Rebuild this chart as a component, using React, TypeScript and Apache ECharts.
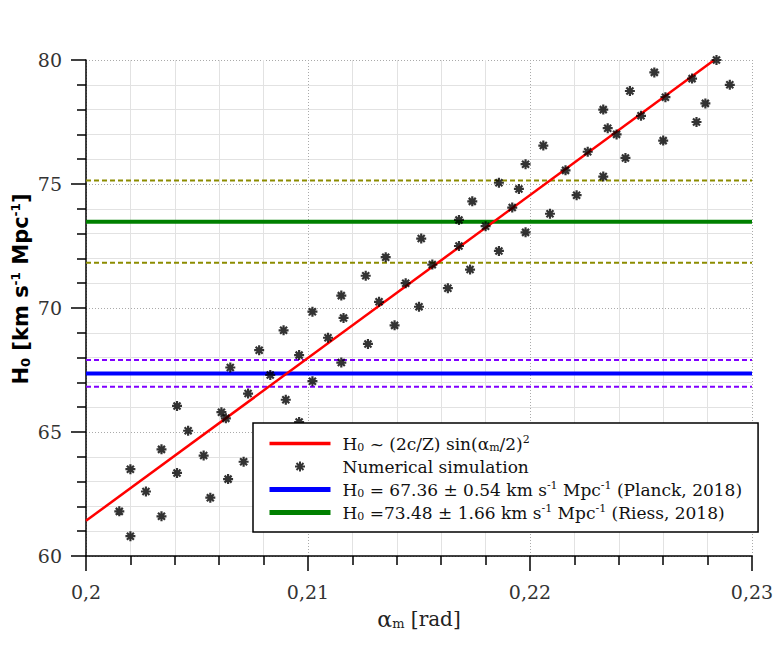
import React, { useEffect, useRef } from "react";
import * as echarts from "echarts";

// ---- Data ----
const simAlpha: number[] = [
  0.2015, 0.202, 0.202, 0.2027, 0.2034, 0.2034, 0.2041, 0.2041, 0.2046, 0.2053,
  0.2056, 0.2061, 0.2063, 0.2065, 0.2064, 0.2071, 0.2073, 0.2078, 0.2083, 0.2089,
  0.209, 0.2096, 0.2096, 0.2102, 0.2102, 0.2109, 0.2115, 0.2116, 0.2115, 0.2127,
  0.2126, 0.2132, 0.2135, 0.2139, 0.2144, 0.215, 0.2151, 0.2156, 0.2163, 0.2168,
  0.2168, 0.2173, 0.2174, 0.218, 0.2186, 0.2186, 0.2192, 0.2195, 0.2198, 0.2198,
  0.2206, 0.2209, 0.2216, 0.2221, 0.2226, 0.2233, 0.2233, 0.2235, 0.2239, 0.2243,
  0.2245, 0.225, 0.2256, 0.226, 0.2261, 0.2273, 0.2275, 0.2279, 0.2284, 0.229,
];
const simH0: number[] = [
  61.8, 60.8, 63.5, 62.6, 61.6, 64.3, 66.05, 63.35, 65.05, 64.05,
  62.35, 65.8, 65.55, 67.6, 63.1, 63.8, 66.55, 68.3, 67.3, 69.1,
  66.3, 68.1, 65.4, 69.85, 67.05, 68.8, 67.8, 69.6, 70.5, 68.55,
  71.3, 70.25, 72.05, 69.3, 71.0, 70.05, 72.8, 71.75, 70.8, 73.55,
  72.5, 71.55, 74.3, 73.3, 75.05, 72.3, 74.05, 74.8, 75.8, 73.05,
  76.55, 73.8, 75.55, 74.55, 76.3, 78.0, 75.3, 77.25, 77.0, 76.05,
  78.75, 77.75, 79.5, 76.75, 78.5, 79.25, 77.5, 78.25, 80.0, 79.0,
];
const modelAlpha: number[] = [0.2, 0.2283];
const modelH0: number[] = [61.42, 80.0];

const planck = { value: 67.36, err: 0.54 };
const riess = { value: 73.48, err: 1.66 };

const xRange = [0.2, 0.23];
const yRange = [60, 80];

const legendLabels: Record<string, string> = {
  model: "H{sub|0} ~ (2c/Z) sin(α{sub|m}/2){sup|2}",
  "Numerical simulation": "Numerical simulation",
  planck: "H{sub|0} = 67.36 ± 0.54 km s{sup|-1} Mpc{sup|-1} (Planck, 2018)",
  riess: "H{sub|0} =73.48 ± 1.66 km s{sup|-1} Mpc{sup|-1} (Riess, 2018)",
};

const STAR = "path://M5,0L5,10M0,5L10,5M1.5,1.5L8.5,8.5M1.5,8.5L8.5,1.5";
const SERIF = "DejaVu Serif";
const SANS = "DejaVu Sans";

function hLine(v: number) {
  return [
    [xRange[0], v],
    [xRange[1], v],
  ];
}

export default function App() {
  const ref = useRef<HTMLDivElement>(null);
  useEffect(() => {
    if (!ref.current) return;
    const chart = echarts.init(ref.current, null, { renderer: "svg" });
    const dashed = (v: number, color: string) => ({
      type: "line",
      data: hLine(v),
      showSymbol: false,
      symbol: "none",
      silent: true,
      lineStyle: { color, width: 2, type: [5, 3] },
      z: 2,
    });
    const hiddenSym = { opacity: 0 };
    chart.setOption({
      animation: false,
      backgroundColor: "#fff",
      grid: { left: 86, top: 60, width: 666, height: 496, containLabel: false },
      xAxis: {
        type: "value",
        min: xRange[0],
        max: xRange[1],
        interval: 0.01,
        name: "{a|α}{sub|m} [rad]",
        nameLocation: "middle",
        nameGap: 52,
        nameTextStyle: {
          fontFamily: SERIF,
          fontSize: 20,
          color: "#222",
          rich: {
            a: { fontFamily: SERIF, fontSize: 22, color: "#222" },
            sub: { fontFamily: SERIF, fontSize: 13, color: "#222", padding: [8, 0, 0, 0] },
          },
        },
        axisLine: { show: true, onZero: false, lineStyle: { color: "#000", width: 1.5 } },
        axisTick: { show: true, inside: false, length: 15, lineStyle: { color: "#000", width: 1.5 } },
        minorTick: { show: true, splitNumber: 5, length: 9, lineStyle: { color: "#000", width: 1.5 } },
        axisLabel: {
          fontFamily: SERIF,
          fontSize: 19,
          color: "#333",
          margin: 26,
          formatter: (v: number) => String(Math.round(v * 1000) / 1000).replace(".", ","),
        },
        splitLine: { show: true, lineStyle: { color: "#aaa", width: 1, type: [1, 2] } },
        minorSplitLine: { show: true, lineStyle: { color: "#e2e2e2", width: 1 } },
      },
      yAxis: {
        type: "value",
        min: yRange[0],
        max: yRange[1],
        interval: 5,
        axisLine: { show: true, onZero: false, lineStyle: { color: "#000", width: 1.5 } },
        axisTick: { show: true, inside: false, length: 15, lineStyle: { color: "#000", width: 1.5 } },
        minorTick: { show: true, splitNumber: 5, length: 9, lineStyle: { color: "#000", width: 1.5 } },
        axisLabel: { fontFamily: SERIF, fontSize: 19, color: "#333", margin: 24 },
        splitLine: { show: true, lineStyle: { color: "#aaa", width: 1, type: [1, 2] } },
        minorSplitLine: { show: true, lineStyle: { color: "#e2e2e2", width: 1 } },
      },
      legend: {
        show: true,
        orient: "vertical",
        left: 253,
        top: 423,
        backgroundColor: "#fff",
        borderColor: "#000",
        borderWidth: 1.5,
        borderRadius: 0,
        padding: [9, 16, 8, 14],
        itemWidth: 61,
        itemHeight: 10,
        itemGap: 0,
        selectedMode: false,
        data: [
          { name: "model", itemStyle: hiddenSym, lineStyle: { width: 3.5, color: "#ff0000" } },
          {
            name: "Numerical simulation",
            icon: STAR,
            itemStyle: { color: "transparent", borderColor: "#000", borderWidth: 2 },
          },
          { name: "planck", itemStyle: hiddenSym, lineStyle: { width: 5, color: "#0000ff" } },
          { name: "riess", itemStyle: hiddenSym, lineStyle: { width: 5, color: "#008000" } },
        ],
        formatter: (name: string) => legendLabels[name] ?? name,
        textStyle: {
          fontFamily: SERIF,
          fontSize: 17,
          color: "#111",
          lineHeight: 23,
          padding: [0, 0, 0, 7],
          rich: {
            sub: { fontFamily: SERIF, fontSize: 11, color: "#111", padding: [7, 0, 0, 0] },
            sup: { fontFamily: SERIF, fontSize: 11, color: "#111", padding: [0, 0, 9, 0] },
          },
        },
        z: 10,
      },
      graphic: [
        {
          type: "text",
          x: 21,
          y: 289,
          rotation: Math.PI / 2,
          style: {
            text: "{b|H}{bs|0}{b| [km s}{bp|-1}{b| Mpc}{bp|-1}{b|]}",
            align: "center",
            verticalAlign: "middle",
            rich: {
              b: { fontFamily: SANS, fontWeight: "bold", fontSize: 21, fill: "#000" },
              bs: { fontFamily: SANS, fontWeight: "bold", fontSize: 13, fill: "#000", padding: [8, 0, 0, 0] },
              bp: { fontFamily: SANS, fontWeight: "bold", fontSize: 12, fill: "#000", padding: [0, 0, 10, 0] },
            },
          },
        },
      ],
      series: [
        dashed(riess.value + riess.err, "#8c8c00"),
        dashed(riess.value - riess.err, "#8c8c00"),
        dashed(planck.value + planck.err, "#8000ff"),
        dashed(planck.value - planck.err, "#8000ff"),
        {
          name: "planck",
          type: "line",
          data: hLine(planck.value),
          showSymbol: false,
          symbol: "none",
          lineStyle: { color: "#0000ff", width: 4 },
          itemStyle: { color: "#0000ff" },
          z: 3,
        },
        {
          name: "riess",
          type: "line",
          data: hLine(riess.value),
          showSymbol: false,
          symbol: "none",
          lineStyle: { color: "#008000", width: 4 },
          itemStyle: { color: "#008000" },
          z: 3,
        },
        {
          name: "model",
          type: "line",
          data: modelAlpha.map((a, i) => [a, modelH0[i]]),
          showSymbol: false,
          symbol: "none",
          clip: true,
          lineStyle: { color: "#ff0000", width: 2.5 },
          itemStyle: { color: "#ff0000" },
          z: 4,
        },
        {
          name: "Numerical simulation",
          type: "scatter",
          data: simAlpha.map((a, i) => [a, simH0[i]]),
          symbol: STAR,
          symbolSize: 10,
          symbolKeepAspect: true,
          itemStyle: { color: "transparent", borderColor: "#000", borderWidth: 2.2 },
          z: 5,
        },
      ],
    });
    return () => chart.dispose();
  }, []);
  return <div ref={ref} style={{ width: 782, height: 655, position: "absolute", left: 0, top: 0 }} />;
}
